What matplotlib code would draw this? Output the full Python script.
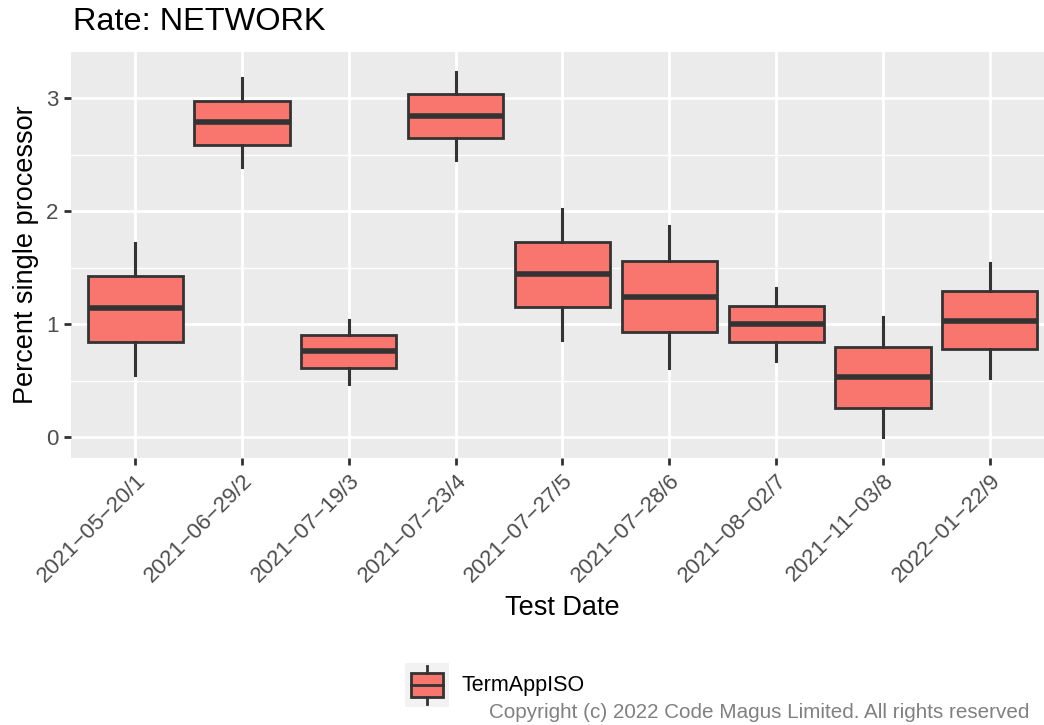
import matplotlib
matplotlib.use("Agg")
import matplotlib.pyplot as plt
import matplotlib.transforms as mtransforms
from matplotlib.patches import Rectangle
from matplotlib.lines import Line2D

plt.rcParams["font.family"] = ["Liberation Sans", "DejaVu Sans"]

dates = ["2021\u221205\u221220/1", "2021\u221206\u221229/2", "2021\u221207\u221219/3",
         "2021\u221207\u221223/4", "2021\u221207\u221227/5", "2021\u221207\u221228/6",
         "2021\u221208\u221202/7", "2021\u221211\u221203/8", "2022\u221201\u221222/9"]
whisk_lo = [0.55, 2.39, 0.47, 2.45, 0.86, 0.61, 0.67, 0.00, 0.52]
q1 = [0.84, 2.59, 0.61, 2.65, 1.15, 0.93, 0.84, 0.26, 0.78]
median = [1.14, 2.79, 0.76, 2.84, 1.44, 1.24, 1.00, 0.53, 1.03]
q3 = [1.43, 2.98, 0.90, 3.04, 1.73, 1.56, 1.16, 0.80, 1.29]
whisk_hi = [1.72, 3.18, 1.04, 3.23, 2.02, 1.87, 1.32, 1.06, 1.54]

fill = "#F8766D"
edge = "#333333"

W, H = 1044, 725
fig = plt.figure(figsize=(W / 100, H / 100), dpi=100)
# panel runs slightly past the right edge, as in the original
ax = fig.add_axes([71 / W, (H - 458) / H, (1054 - 71) / W, (458 - 52) / H])
ax.set_facecolor("#EBEBEB")

stats = []
for i in range(len(dates)):
    stats.append(dict(whislo=whisk_lo[i], q1=q1[i], med=median[i], q3=q3[i],
                      whishi=whisk_hi[i], fliers=[]))
pos = list(range(1, len(dates) + 1))
ax.bxp(stats, positions=pos, widths=0.89, patch_artist=True, showcaps=False,
       boxprops=dict(facecolor=fill, edgecolor=edge, linewidth=2),
       medianprops=dict(color=edge, linewidth=4, solid_capstyle="butt"),
       whiskerprops=dict(color=edge, linewidth=2.2), zorder=3)

ax.set_xlim(0.4, 9.6)
ax.set_ylim(-0.186, 3.41)
ax.set_yticks([0, 1, 2, 3])
ax.set_yticks([0.5, 1.5, 2.5], minor=True)
ax.set_xticks(pos)
ax.set_xticklabels(dates, rotation=45, ha="right", va="top", rotation_mode="anchor")
shift = mtransforms.ScaledTranslation(9 / 100, -4 / 100, fig.dpi_scale_trans)
for lab in ax.get_xticklabels():
    lab.set_transform(lab.get_transform() + shift)
ax.grid(True, which="major", color="white", linewidth=2, zorder=0)
ax.grid(True, which="minor", axis="y", color="white", linewidth=1, zorder=0)
ax.set_axisbelow(True)
for s in ax.spines.values():
    s.set_visible(False)
ax.tick_params(axis="both", which="major", length=5, width=2, color=edge,
               labelcolor="#4D4D4D", labelsize=16, pad=4)
ax.tick_params(axis="y", which="minor", length=0)

ax.set_xlabel("Test Date", fontsize=19.5, labelpad=6)
ax.set_ylabel("Percent single processor", fontsize=19.5, labelpad=5)
fig.text(73 / W, 1 - 22 / H, "Rate: NETWORK", fontsize=23.4, va="center", ha="left")

# legend key, drawn in figure pixels
fig.patches.append(Rectangle((405 / W, 1 - 707 / H), 44 / W, 44 / H,
                             transform=fig.transFigure, facecolor="#F2F2F2", edgecolor="none"))
fig.patches.append(Rectangle((411 / W, 1 - 697 / H), 32 / W, 24 / H,
                             transform=fig.transFigure, facecolor=fill, edgecolor=edge, linewidth=2))
fig.lines.append(Line2D([411 / W, 443 / W], [1 - 685 / H, 1 - 685 / H],
                        transform=fig.transFigure, color=edge, linewidth=2))
fig.lines.append(Line2D([427 / W, 427 / W], [1 - 673 / H, 1 - 666 / H],
                        transform=fig.transFigure, color=edge, linewidth=2))
fig.lines.append(Line2D([427 / W, 427 / W], [1 - 697 / H, 1 - 704 / H],
                        transform=fig.transFigure, color=edge, linewidth=2))
fig.text(461 / W, 1 - 685 / H, "TermAppISO", fontsize=15.5, va="center", ha="left")

fig.text(489 / W, 1 - 712 / H, "Copyright (c) 2022 Code Magus Limited. All rights reserved",
         fontsize=14.9, color="#808080", va="center", ha="left")

fig.savefig("out.png", dpi=100)
